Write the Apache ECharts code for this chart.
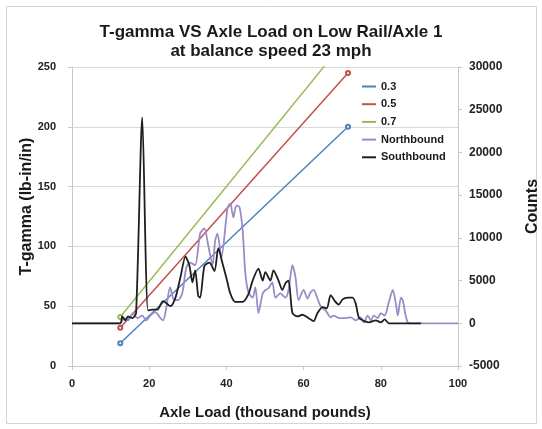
<!DOCTYPE html>
<html>
<head>
<meta charset="utf-8">
<script src="https://cdn.jsdelivr.net/npm/echarts@6/dist/echarts.min.js"></script>
<style>
html,body{margin:0;padding:0;background:#fff;}
#c{width:542px;height:429px;}
</style>
</head>
<body>
<div id="c"></div>
<script>
// ---- data ----
const xTicks = [0, 20, 40, 60, 80, 100];
const ratioLoads = [12.5, 71.5];
const ratio03 = [19, 200];
const ratio05 = [32, 245];
const ratio07 = [41, 275];

const northLoad = [0, 12.5, 13.5, 14.5, 15.8, 16.9, 18.2, 19.2, 20.3, 21.6, 22.9, 23.6, 24.4, 25.4, 26.5, 27.5, 28.6, 29.6, 30.6, 31.9, 33.2, 34.3, 35.3, 36.4, 37.1, 37.7, 38.7, 40.3, 41.0, 41.8, 42.6, 43.4, 44.2, 44.9, 45.7, 46.8, 47.5, 48.3, 49.4, 50.1, 50.9, 51.9, 52.7, 54.0, 55.3, 56.1, 57.1, 57.9, 58.7, 60.0, 61.0, 61.8, 62.6, 63.6, 64.4, 65.7, 67.0, 67.8, 69.1, 70.9, 72.2, 73.5, 74.8, 75.6, 76.6, 77.4, 78.2, 79.2, 80.0, 81.0, 82.1, 83.1, 83.9, 84.4, 85.2, 85.7, 86.5, 87.3, 100];
const northCounts = [0, 0, 600, 350, 1200, 600, 900, 350, 900, 1300, 600, 350, 1750, 4200, 2700, 2700, 3600, 6500, 7100, 6800, 10500, 11100, 9100, 6800, 9700, 10500, 7700, 13500, 14000, 12400, 13800, 13600, 10900, 5900, 3600, 3000, 4200, 1200, 3500, 3900, 4100, 4800, 3000, 3500, 3000, 3900, 6800, 5400, 2700, 3900, 2900, 3600, 3900, 2900, 2000, 1500, 700, 900, 600, 600, 700, 350, 700, 100, 900, 350, 900, 600, 1200, 900, 2500, 3900, 2300, 900, 3000, 2700, 800, 0, 0];

const southLoad = [0, 12.5, 13.0, 13.8, 14.5, 15.6, 16.6, 18.2, 19.7, 20.8, 22.1, 23.6, 25.5, 26.8, 28.1, 29.4, 30.4, 31.2, 31.9, 32.7, 33.2, 34.3, 35.6, 36.9, 37.9, 39.0, 40.0, 41.0, 42.3, 44.2, 45.7, 46.8, 48.3, 49.4, 50.1, 51.4, 52.2, 53.5, 54.5, 55.3, 56.1, 57.1, 58.4, 59.7, 61.3, 62.6, 63.6, 64.9, 66.0, 67.0, 68.1, 69.1, 70.1, 71.4, 72.7, 73.5, 74.3, 75.3, 76.9, 78.7, 80.0, 81.0, 82.1, 90.4];
const southCounts = [0, 0, 800, 350, 800, 600, 1200, 24100, 1500, 1600, 1600, 2600, 2000, 3000, 5400, 7800, 6800, 4800, 6200, 3200, 3000, 6700, 7100, 6100, 8800, 7000, 5300, 3500, 2500, 2500, 3400, 5000, 6400, 5000, 6000, 5000, 6200, 5000, 3900, 4700, 5000, 1200, 800, 1000, 600, 250, 1200, 1900, 1750, 3300, 2600, 2200, 2800, 3000, 3000, 2300, 700, 350, 100, 350, 100, 450, 0, 0];

const pairs = (xs, ys) => xs.map((x, i) => [x, ys[i]]);

const FONT = 'Liberation Sans';
const chart = echarts.init(document.getElementById('c'), null, {renderer: 'canvas'});

const ratioSeries = (name, ys, color) => ({
  name, type: 'line', yAxisIndex: 0, data: pairs(ratioLoads, ys),
  symbol: 'emptyCircle', symbolSize: 4, showSymbol: true,
  lineStyle: {color, width: 1.5}, itemStyle: {color, borderWidth: 1},
  clip: true, z: 2
});

chart.setOption({
  backgroundColor: '#fff',
  animation: false,
  title: {
    text: 'T-gamma VS Axle Load on Low Rail/Axle 1\nat balance speed 23 mph',
    left: 'center', top: 18,
    textStyle: {fontFamily: FONT, fontSize: 17, fontWeight: 'bold', color: '#1a1a1a', lineHeight: 19}
  },
  legend: {
    orient: 'vertical', left: 362, top: 81, padding: 0,
    icon: 'rect', itemWidth: 14, itemHeight: 2, itemGap: 6.7,
    textStyle: {fontFamily: FONT, fontSize: 11, fontWeight: 'bold', color: '#1a1a1a', lineHeight: 11},
    data: ['0.3', '0.5', '0.7', 'Northbound', 'Southbound']
  },
  grid: {left: 72, right: 84, top: 67, bottom: 63, outerBoundsMode: 'none', containLabel: false},
  xAxis: {
    type: 'value', min: 0, max: 100, interval: 20,
    name: 'Axle Load (thousand pounds)', nameLocation: 'middle', nameGap: 39, nameMoveOverlap: false,
    nameTextStyle: {fontFamily: FONT, fontSize: 15, fontWeight: 'bold', color: '#1a1a1a'},
    axisLine: {show: true, onZero: false, lineStyle: {color: '#c8c8c8'}},
    axisTick: {show: true, length: 4, lineStyle: {color: '#c8c8c8'}},
    axisLabel: {fontFamily: FONT, fontSize: 11, fontWeight: 'bold', color: '#222', margin: 12},
    splitLine: {show: false}
  },
  yAxis: [{
    type: 'value', min: 0, max: 250, interval: 50, position: 'left',
    name: 'T-gamma (lb-in/in)', nameLocation: 'middle', nameGap: 37, nameRotate: 90, nameMoveOverlap: false,
    nameTextStyle: {fontFamily: FONT, fontSize: 16, fontWeight: 'bold', color: '#1a1a1a', padding: [0, 0, 0, 20]},
    axisLine: {show: true, lineStyle: {color: '#c8c8c8'}},
    axisTick: {show: true, length: 4, lineStyle: {color: '#c8c8c8'}},
    axisLabel: {fontFamily: FONT, fontSize: 11, fontWeight: 'bold', color: '#222', margin: 16},
    splitLine: {show: true, lineStyle: {color: '#d9d9d9', width: 1}}
  }, {
    type: 'value', min: -5000, max: 30000, interval: 5000, position: 'right',
    name: 'Counts', nameLocation: 'middle', nameGap: 67, nameRotate: 90, nameMoveOverlap: false,
    nameTextStyle: {fontFamily: FONT, fontSize: 16, fontWeight: 'bold', color: '#1a1a1a', padding: [0, 0, 0, 20]},
    axisLine: {show: true, lineStyle: {color: '#c8c8c8'}},
    axisTick: {show: true, length: 4, lineStyle: {color: '#c8c8c8'}},
    axisLabel: {fontFamily: FONT, fontSize: 12, fontWeight: 'bold', color: '#222', margin: 11,
      formatter: v => String(v)},
    splitLine: {show: false}
  }],
  graphic: [{
    type: 'rect', silent: true, z: -1,
    shape: {x: 6.5, y: 6.5, width: 530, height: 417},
    style: {fill: 'none', stroke: '#d4d4d4', lineWidth: 1}
  }],
  series: [
    ratioSeries('0.3', ratio03, '#4f81bd'),
    ratioSeries('0.5', ratio05, '#c0504d'),
    ratioSeries('0.7', ratio07, '#9bbb59'),
    {
      name: 'Northbound', type: 'line', yAxisIndex: 1, data: pairs(northLoad, northCounts),
      symbol: 'none', smooth: 0.25, lineStyle: {color: '#998cc6', width: 1.8}, itemStyle: {color: '#998cc6'}, z: 3
    },
    {
      name: 'Southbound', type: 'line', yAxisIndex: 1, data: pairs(southLoad, southCounts),
      symbol: 'none', smooth: 0.25, lineStyle: {color: '#1e1e1e', width: 1.8}, itemStyle: {color: '#1e1e1e'}, z: 4
    }
  ]
});
</script>
</body>
</html>
